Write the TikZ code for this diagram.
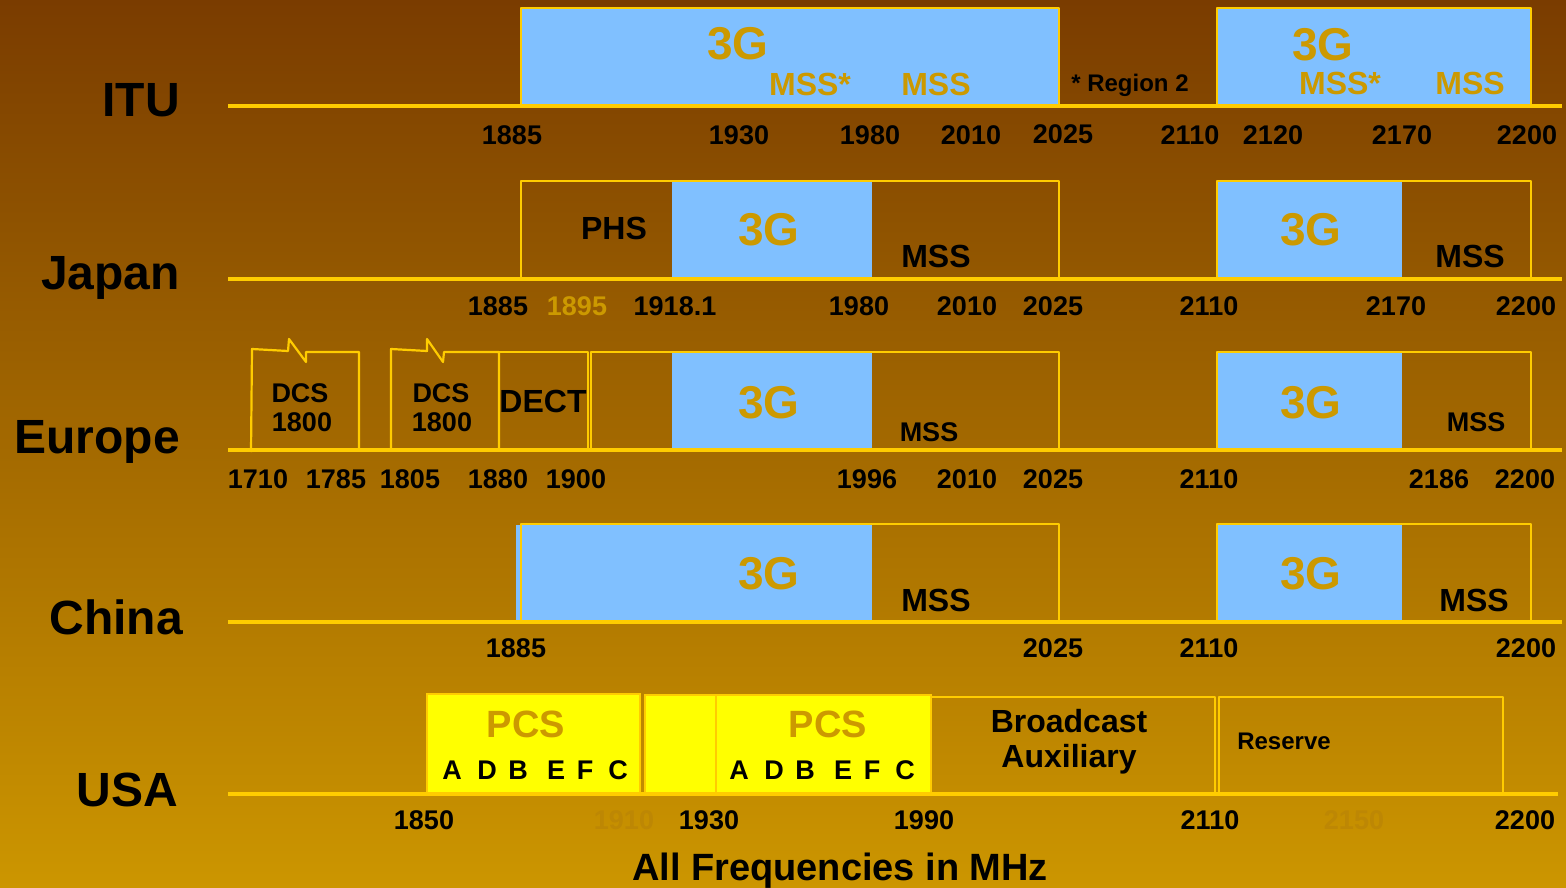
\documentclass[tikz,border=0pt]{standalone}
\usepackage{fontspec}
\setmainfont{Liberation Sans}
\newcommand\fsz[1]{\fontsize{#1}{#1}\selectfont\bfseries}
\definecolor{bgtop}{RGB}{122,60,0}
\definecolor{bgbot}{RGB}{204,150,0}
\definecolor{yel}{RGB}{255,204,0}
\definecolor{lblue}{RGB}{128,192,255}
\definecolor{gold}{RGB}{204,153,0}
\definecolor{pcsy}{RGB}{255,255,0}
\definecolor{faint}{RGB}{189,135,4}
\tikzset{
  ax/.style={draw=yel, line width=4pt},
  bx/.style={draw=yel, line width=2.2pt, line join=round},
  bluebox/.style={fill=lblue},
  pcsbox/.style={fill=pcsy, draw=yel, line width=2.2pt},
  t/.style={anchor=base, inner sep=0pt, outer sep=0pt},
  num/.style={t, font=\fsz{27}},
  big/.style={t, font=\fsz{46}, text=gold},
  mg/.style={t, font=\fsz{32}, text=gold},
  mb/.style={t, font=\fsz{32}},
  rowlbl/.style={anchor=base east, inner sep=0pt, font=\fsz{48}},
}
\begin{document}
\begin{tikzpicture}[x=1pt,y=-1pt]
\useasboundingbox (0,0) rectangle (1566,888);
\shade[top color=bgtop, bottom color=bgbot] (0,0) rectangle (1566,888);

% ---------- ITU ----------
\draw[bx, fill=lblue] (521,8) rectangle (1059,106);
\draw[bx, fill=lblue] (1217,8) rectangle (1531,106);
\draw[ax] (228,106) -- (1562,106);
\node[rowlbl] (itu) at (180,117) {ITU};
\node[big] (itu3g) at (738,60) {3G};
\node[mg] (itumss1) at (810,96) {MSS*};
\node[mg] (itumss2) at (936,96) {MSS};
\node[t, font=\fsz{24}] (region) at (1130,92) {* Region 2};
\node[big] (itu3gr) at (1323,61) {3G};
\node[mg] (itumss3) at (1340,95) {MSS*};
\node[mg] (itumss4) at (1470,95) {MSS};
\foreach \x/\v [count=\i] in {512/1885,739/1930,870/1980,971/2010,1190/2110,1273/2120,1402/2170,1527/2200}
  \node[num] (itun\i) at (\x,145) {\v};
\node[num] (itu2025) at (1063,143) {2025};

% ---------- Japan ----------
\fill[bluebox] (672,181) rectangle (872,279);
\fill[bluebox] (1217,181) rectangle (1402,279);
\draw[bx] (521,181) rectangle (1059,279);
\draw[bx] (1217,181) rectangle (1531,279);
\draw[ax] (228,279) -- (1562,279);
\node[rowlbl] (japan) at (180,289) {Japan};
\node[mb] (phs) at (614,239) {PHS};
\node[big] (jp3g) at (769,245) {3G};
\node[mb] (jpmss) at (936,267) {MSS};
\node[big] (jp3gr) at (1311,245) {3G};
\node[mb] (jpmssr) at (1470,267) {MSS};
\foreach \x/\v [count=\i] in {498/1885,675/1918.1,859/1980,967/2010,1053/2025,1209/2110,1396/2170,1526/2200}
  \node[num] (jpn\i) at (\x,315) {\v};
\node[num, text=gold] (jp1895) at (577,315) {1895};

% ---------- Europe ----------
\fill[bluebox] (672,352) rectangle (872,450);
\fill[bluebox] (1217,352) rectangle (1402,450);
\draw[bx] (251,452) -- (252,349) -- (288,351) -- (289,339) -- (306,362) -- (306,352) -- (359,352) -- (359,450);
\draw[bx] (391,450) -- (391,349) -- (427,351) -- (427,339) -- (443,362) -- (444,352) -- (499,352) -- (499,450);
\draw[bx] (499,352) -- (588,352) -- (588,450);
\draw[bx] (591,352) rectangle (1059,450);
\draw[bx] (1217,352) rectangle (1531,450);
\draw[ax] (228,450) -- (1562,450);
\node[rowlbl] (europe) at (180,453) {Europe};
\node[num] (dcs1) at (300,402) {DCS};
\node[num] (dcs1b) at (302,431) {1800};
\node[num] (dcs2) at (441,402) {DCS};
\node[num] (dcs2b) at (442,431) {1800};
\node[mb] (dect) at (543,412) {DECT};
\node[big] (eu3g) at (769,418) {3G};
\node[num] (eumss) at (929,441) {MSS};
\node[big] (eu3gr) at (1311,418) {3G};
\node[num] (eumssr) at (1476,431) {MSS};
\foreach \x/\v [count=\i] in {258/1710,336/1785,410/1805,498/1880,576/1900,867/1996,967/2010,1053/2025,1209/2110,1439/2186,1525/2200}
  \node[num] (eun\i) at (\x,488) {\v};

% ---------- China ----------
\fill[bluebox] (516,525) rectangle (872,622);
\fill[bluebox] (1217,524) rectangle (1402,622);
\draw[bx] (521,524) rectangle (1059,622);
\draw[bx] (1217,524) rectangle (1531,622);
\draw[ax] (228,622) -- (1562,622);
\node[rowlbl] (china) at (183,634) {China};
\node[big] (cn3g) at (769,589) {3G};
\node[mb] (cnmss) at (936,611) {MSS};
\node[big] (cn3gr) at (1311,589) {3G};
\node[mb] (cnmssr) at (1474,611) {MSS};
\foreach \x/\v [count=\i] in {516/1885,1053/2025,1209/2110,1526/2200}
  \node[num] (cnn\i) at (\x,657) {\v};

% ---------- USA ----------
\draw[pcsbox] (427,694) rectangle (640,794);
\draw[pcsbox] (645,695) rectangle (716,794);
\draw[pcsbox] (716,695) rectangle (931,794);
\draw[bx] (931,697) rectangle (1215,794);
\draw[bx] (1219,697) rectangle (1503,794);
\draw[ax] (228,794) -- (1558,794);
\node[rowlbl] (usa) at (178,806) {USA};
\node[t, font=\fsz{38}, text=gold] (pcs1) at (526,737) {PCS};
\node[t, font=\fsz{38}, text=gold] (pcs2) at (828,737) {PCS};
\foreach \x/\l [count=\i] in {452/A,487/D,518/B,556/E,585/F,618/C} {
  \node[num] (pa\i) at (\x,779) {\l};
  \node[num] (pb\i) at (\x+287,779) {\l};
}
\node[mb] (bcast) at (1069,732) {Broadcast};
\node[mb] (aux) at (1069,767) {Auxiliary};
\node[t, font=\fsz{24}] (reserve) at (1284,749) {Reserve};
\foreach \x/\v [count=\i] in {424/1850,709/1930,924/1990,1210/2110,1525/2200}
  \node[num] (usn\i) at (\x,829) {\v};
\node[num, text=faint] (us1910) at (624,829) {1910};
\node[num, text=faint] (us2150) at (1354,829) {2150};

\node[t, font=\fsz{38}] (allfreq) at (840,880) {All Frequencies in MHz};
\end{tikzpicture}
\end{document}
